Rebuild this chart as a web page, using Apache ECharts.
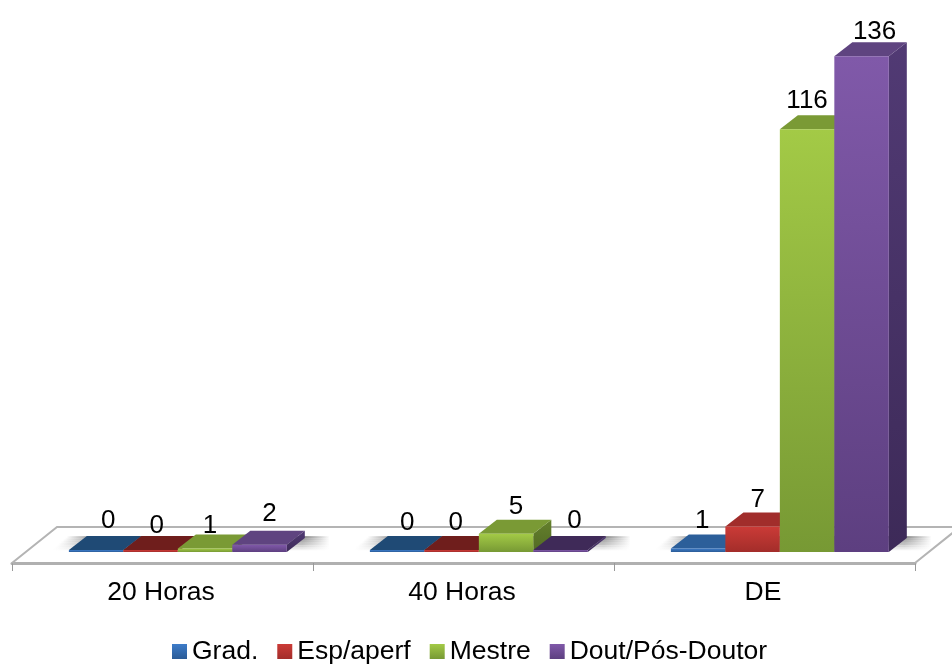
<!DOCTYPE html>
<html>
<head>
<meta charset="utf-8">
<style>
  html, body { margin: 0; padding: 0; background: #fff; }
  #chart { width: 952px; height: 664px; }
</style>
<script src="https://cdn.jsdelivr.net/npm/echarts@6/dist/echarts.min.js"></script>
</head>
<body>
<div id="chart"></div>
<script>
var categories = ['20 Horas', '40 Horas', 'DE'];
var seriesNames = ['Grad.', 'Esp/aperf', 'Mestre', 'Dout/Pós-Doutor'];
var grad = [0, 0, 1];
var esp = [0, 0, 7];
var mestre = [1, 5, 116];
var dout = [2, 0, 136];
var seriesValues = [grad, esp, mestre, dout];

// front top, front bottom, top face, top face when empty, side top, side bottom
var palette = [
  ['#3d7cc9', '#2b5b96', '#2c5f9a', '#1f4a75', '#234d7c', '#1c3f66'],
  ['#cb3b37', '#a32d2a', '#a12d2b', '#6f1e1c', '#7c2220', '#651b1a'],
  ['#a3ca46', '#779934', '#7a9a35', '#5f7a2a', '#64802c', '#526a24'],
  ['#8059a9', '#5d3f80', '#5f4480', '#3f2a58', '#513a74', '#3d2a58']
];

// the data labels were moved by hand in the original: [right of bar centre, above bar top]
var labelShift = [
  [[12, 29], [10, 27], [4, 28]],
  [[6, 24], [4, 27], [5, 27]],
  [[5, 23], [10, 27], [0, 28]],
  [[10, 31], [14, 29], [13, 25]]
];

var depthX = 18;
var depthY = 14;
var fontName = '"Liberation Sans", Arial, sans-serif';

function vertical(top, bottom) {
  return new echarts.graphic.LinearGradient(0, 0, 0, 1, [
    { offset: 0, color: top },
    { offset: 1, color: bottom }
  ]);
}

function renderBar(s) {
  return function(params, api) {
    var cat = api.value(0);
    var value = api.value(1);
    var base = api.coord([cat, 0]);
    var top = api.coord([cat, value]);
    var band = api.size([1, 0])[0];
    var w = band * 0.181;
    var x0 = base[0] - band * 0.311 + s * w;
    var x1 = x0 + w;
    var y0 = base[1];
    var y1 = Math.min(top[1], y0 - 2);
    var c = palette[s];
    var shift = labelShift[s][cat];
    return {
      type: 'group',
      children: [{
        type: 'polygon',
        shape: { points: [[x1, y0], [x1 + depthX, y0 - depthY], [x1 + depthX, y1 - depthY], [x1, y1]] },
        style: { fill: vertical(c[4], c[5]) }
      }, {
        type: 'polygon',
        shape: { points: [[x0, y1], [x1, y1], [x1 + depthX, y1 - depthY], [x0 + depthX, y1 - depthY]] },
        style: { fill: value === 0 ? c[3] : c[2] }
      }, {
        type: 'rect',
        shape: { x: x0, y: y1, width: w, height: y0 - y1 },
        style: { fill: vertical(c[0], c[1]) }
      }, {
        type: 'text',
        style: {
          text: String(value),
          x: x0 + w / 2 + shift[0],
          y: y1 - shift[1],
          textAlign: 'center',
          textVerticalAlign: 'middle',
          fill: '#000',
          font: '26px ' + fontName
        }
      }]
    };
  };
}

function renderFloor(params, api) {
  var box = params.coordSys;
  var front = box.y + box.height;
  var back = front - 36;
  return {
    type: 'polyline',
    shape: { points: [
      [box.x, front], [box.x + 45, back],
      [box.x + box.width + 45, back], [box.x + box.width, front]
    ] },
    style: { fill: null, stroke: '#b4b4b4', lineWidth: 2 }
  };
}

// soft shadow under each group, stacked thin strips that get lighter towards the viewer
function renderShadow(params, api) {
  var base = api.coord([api.value(0), 0]);
  var band = api.size([1, 0])[0];
  var left = base[0] - band * 0.365;
  var right = base[0] + band * 0.555;
  var strips = [];
  for (var i = 0; i < 8; i++) {
    var alpha = 0.7 * (1 - i / 8);
    var top = base[1] - 16 + i * 1.75;
    var inset = (7 - i) * 2;
    strips.push({
      type: 'rect',
      shape: { x: left + inset, y: top, width: right - left - inset, height: 2 },
      style: {
        fill: new echarts.graphic.LinearGradient(0, 0, 1, 0, [
          { offset: 0, color: 'rgba(100,100,100,0)' },
          { offset: 0.11, color: 'rgba(100,100,100,' + alpha + ')' },
          { offset: 0.9, color: 'rgba(100,100,100,' + alpha + ')' },
          { offset: 1, color: 'rgba(100,100,100,0)' }
        ])
      }
    });
  }
  return { type: 'group', children: strips };
}

var series = [{
  type: 'custom',
  silent: true,
  z: 1,
  renderItem: renderFloor,
  data: [[0, 0]]
}, {
  type: 'custom',
  silent: true,
  z: 1,
  renderItem: renderShadow,
  data: categories.map(function(c, i) { return [i, 0]; })
}];

seriesNames.forEach(function(name, s) {
  series.push({
    name: name,
    type: 'custom',
    z: 2 + s,
    renderItem: renderBar(s),
    itemStyle: { color: vertical(palette[s][0], palette[s][1]) },
    encode: { x: 0, y: 1 },
    data: seriesValues[s].map(function(v, i) { return [i, v]; })
  });
});

var option = {
  animation: false,
  backgroundColor: '#fff',
  legend: {
    data: seriesNames,
    left: 167,
    top: 633,
    icon: 'rect',
    itemWidth: 15,
    itemHeight: 15,
    itemGap: 19,
    selectedMode: false,
    textStyle: { fontFamily: fontName, fontSize: 26.5, color: '#000' }
  },
  grid: { left: 12, right: 37, top: 41.76, bottom: 101 },
  xAxis: {
    type: 'category',
    data: categories,
    axisLine: { onZero: false, lineStyle: { color: '#b0b0b0', width: 3 } },
    axisTick: { show: true, length: 8, lineStyle: { color: '#999', width: 1 } },
    axisLabel: { margin: 16, padding: [0, 3, 0, 0], color: '#000', fontFamily: fontName, fontSize: 26.5 }
  },
  yAxis: {
    type: 'value',
    min: -3,
    max: 140,
    show: false
  },
  series: series
};

echarts.init(document.getElementById('chart')).setOption(option);
</script>
</body>
</html>
